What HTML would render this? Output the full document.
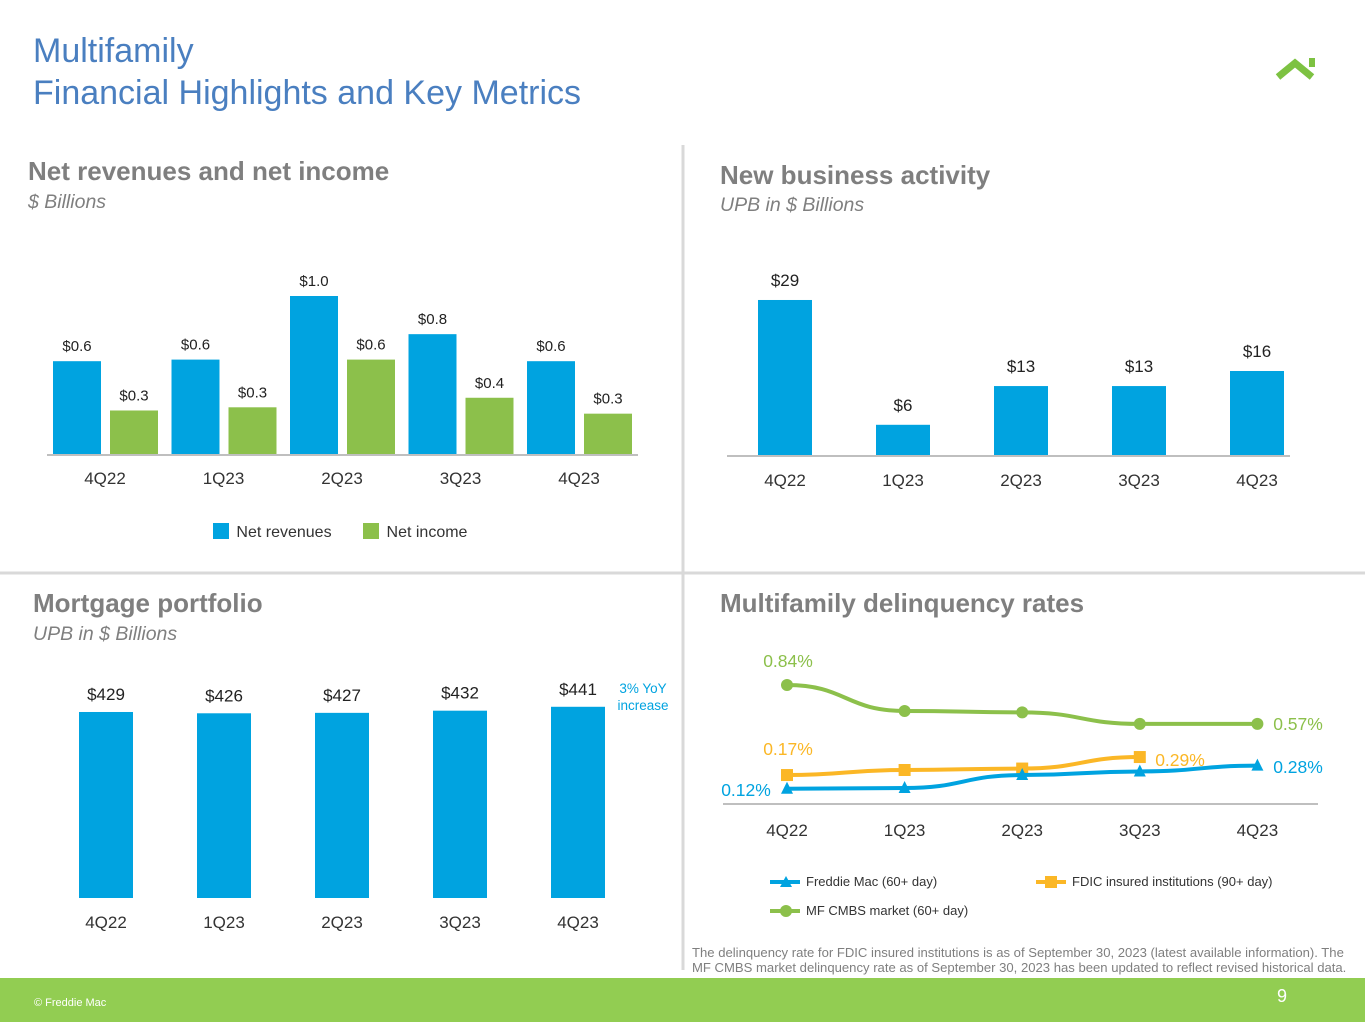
<!DOCTYPE html>
<html><head><meta charset="utf-8"><style>
body{margin:0;width:1365px;height:1024px;overflow:hidden;background:#fff;font-family:"Liberation Sans",sans-serif;}
svg text{font-family:"Liberation Sans",sans-serif;}
</style></head><body>
<svg id="s" width="1365" height="1024" xmlns="http://www.w3.org/2000/svg">
<text x="33" y="62" font-size="34" fill="#4a7fc0">Multifamily</text>
<text x="33" y="104" font-size="34" fill="#4a7fc0">Financial Highlights and Key Metrics</text>
<g><polyline points="1278,77 1295,63 1312,77" fill="none" stroke="#7dc242" stroke-width="7"/><rect x="1309" y="58" width="6" height="9" fill="#7dc242"/></g>
<line x1="683" y1="145" x2="683" y2="970" stroke="#d9d9d9" stroke-width="3"/>
<line x1="0" y1="573" x2="1365" y2="573" stroke="#d9d9d9" stroke-width="3"/>
<text x="28" y="180" font-size="26" font-weight="bold" fill="#7f7f7f">Net revenues and net income</text>
<text x="28" y="208" font-size="19.5" font-style="italic" fill="#7f7f7f">$ Billions</text>
<text x="720" y="184" font-size="26" font-weight="bold" fill="#7f7f7f">New business activity</text>
<text x="720" y="211" font-size="19.5" font-style="italic" fill="#7f7f7f">UPB in $ Billions</text>
<text x="33" y="612" font-size="26" font-weight="bold" fill="#7f7f7f">Mortgage portfolio</text>
<text x="33" y="640" font-size="19.5" font-style="italic" fill="#7f7f7f">UPB in $ Billions</text>
<text x="720" y="612" font-size="26" font-weight="bold" fill="#7f7f7f">Multifamily delinquency rates</text>
<g id="c1"></g><g id="c2"></g><g id="c3"></g><g id="c4"></g>
<text x="643" y="693" font-size="13.5" fill="#00a3e0" text-anchor="middle">3% YoY</text>
<text x="643" y="710" font-size="13.5" fill="#00a3e0" text-anchor="middle">increase</text>
<text x="692" y="957" font-size="13.1" fill="#7f7f7f">The delinquency rate for FDIC insured institutions is as of September 30, 2023 (latest available information). The</text>
<text x="692" y="972" font-size="13.1" fill="#7f7f7f">MF CMBS market delinquency rate as of September 30, 2023 has been updated to reflect revised historical data.</text>
<rect x="0" y="978" width="1365" height="44" fill="#92cd52"/>
<text x="34" y="1006" font-size="11" fill="#fff">© Freddie Mac</text>
<text x="1287" y="1002" font-size="18" fill="#fff" text-anchor="end">9</text>
</svg>
<script>
const quarters=["4Q22","1Q23","2Q23","3Q23","4Q23"];
const netRevenues=[0.59,0.6,1.0,0.76,0.59];
const netRevenueLabels=["$0.6","$0.6","$1.0","$0.8","$0.6"];
const netIncome=[0.28,0.3,0.6,0.36,0.26];
const netIncomeLabels=["$0.3","$0.3","$0.6","$0.4","$0.3"];
const newBusiness=[29,5.8,13,13,15.8];
const newBusinessLabels=["$29","$6","$13","$13","$16"];
const portfolio=[429,426,427,432,441];
const portfolioLabels=["$429","$426","$427","$432","$441"];
const freddieRates=[0.12,0.125,0.215,0.24,0.28];
const fdicRates=[0.215,0.25,0.26,0.34];
const cmbsRates=[0.84,0.66,0.65,0.57,0.57];
const NS="http://www.w3.org/2000/svg";
function mk(p,t,a){const e=document.createElementNS(NS,t);for(const k in a)e.setAttribute(k,a[k]);p.appendChild(e);return e;}
function txt(p,x,y,s,size,fill){const e=mk(p,"text",{x:x,y:y,"font-size":size,fill:fill,"text-anchor":"middle"});e.textContent=s;return e;}
const BLUE="#00a3e0",GREEN="#8cc04b",ORANGE="#fbb726";
(function(){const g=document.getElementById("c1");const base=455,k=159;
const xr=i=>53+i*118.5, xi=i=>110+i*118.5, y=v=>base-v*k;
quarters.forEach((q,i)=>{
 const r=mk(g,"rect",{x:xr(i),y:y(netRevenues[i]),width:48,height:netRevenues[i]*k,fill:BLUE});
 
 
 const b=mk(g,"rect",{x:xi(i),y:y(netIncome[i]),width:48,height:netIncome[i]*k,fill:GREEN});
 
 
 txt(g,xr(i)+24,y(netRevenues[i])-10,netRevenueLabels[i],15,"#222");
 txt(g,xi(i)+24,y(netIncome[i])-10,netIncomeLabels[i],15,"#222");
 txt(g,xr(i)+52,484,q,17,"#333");
});
mk(g,"line",{x1:47,y1:base,x2:638,y2:base,stroke:"#bfbfbf","stroke-width":2});
mk(g,"rect",{x:213,y:523,width:16,height:16,fill:BLUE});txt(g,284,537,"Net revenues",16,"#333");
mk(g,"rect",{x:363,y:523,width:16,height:16,fill:GREEN});txt(g,427,537,"Net income",16,"#333");
})();
(function(){const g=document.getElementById("c2");const base=456,k=5.38;
const x=i=>758+i*118, y=v=>base-v*k;
quarters.forEach((q,i)=>{
 const r=mk(g,"rect",{x:x(i),y:y(newBusiness[i]),width:54,height:newBusiness[i]*k,fill:BLUE});
 
 
 txt(g,x(i)+27,y(newBusiness[i])-14,newBusinessLabels[i],17,"#222");
 txt(g,x(i)+27,486,q,17,"#333");
});
mk(g,"line",{x1:727,y1:base,x2:1290,y2:base,stroke:"#bfbfbf","stroke-width":2});
})();
(function(){const g=document.getElementById("c3");const base=898,k=0.4336;
const x=i=>79+i*118, y=v=>base-v*k;
quarters.forEach((q,i)=>{
 const r=mk(g,"rect",{x:x(i),y:y(portfolio[i]),width:54,height:portfolio[i]*k,fill:BLUE});
 
 
 txt(g,x(i)+27,y(portfolio[i])-12,portfolioLabels[i],17,"#222");
 txt(g,x(i)+27,928,q,17,"#333");
});
})();
(function(){const g=document.getElementById("c4");const k=144,z=806;
const x=i=>787+i*117.6, y=v=>z-v*k;
mk(g,"line",{x1:723,y1:804,x2:1318,y2:804,stroke:"#bfbfbf","stroke-width":2});
quarters.forEach((q,i)=>txt(g,x(i),836,q,17,"#333"));
function path(vals){let d="";vals.forEach((v,i)=>{const X=x(i),Y=y(v);if(i==0)d="M"+X+","+Y;else{const px=x(i-1),py=y(vals[i-1]),m=(X-px)/2;d+=" C"+(px+m)+","+py+" "+(X-m)+","+Y+" "+X+","+Y;}});return d;}
[[cmbsRates,GREEN,"cmbs"],[fdicRates,ORANGE,"fdic"],[freddieRates,BLUE,"freddie"]].forEach(([vals,c,n])=>{
 const p=mk(g,"path",{d:path(vals),fill:"none",stroke:c,"stroke-width":4});
 
 
 vals.forEach((v,i)=>{let m;
  if(n=="cmbs")m=mk(g,"circle",{cx:x(i),cy:y(v),r:6,fill:c});
  else if(n=="fdic")m=mk(g,"rect",{x:x(i)-6,y:y(v)-6,width:12,height:12,fill:c});
  else m=mk(g,"polygon",{points:(x(i)-6)+","+(y(v)+5)+" "+(x(i)+6)+","+(y(v)+5)+" "+x(i)+","+(y(v)-7),fill:c});
  
  
 });
});
txt(g,788,667,"0.84%",17.5,GREEN);txt(g,1298,730,"0.57%",17.5,GREEN);
txt(g,788,755,"0.17%",17.5,ORANGE);txt(g,1180,766,"0.29%",17.5,ORANGE);
txt(g,746,796,"0.12%",17.5,BLUE);txt(g,1298,773,"0.28%",17.5,BLUE);
mk(g,"line",{x1:770,y1:882,x2:800,y2:882,stroke:BLUE,"stroke-width":4});mk(g,"polygon",{points:"780,887 792,887 786,876",fill:BLUE});
mk(g,"text",{x:806,y:886,"font-size":13,fill:"#333"}).textContent="Freddie Mac (60+ day)";
mk(g,"line",{x1:1036,y1:882,x2:1066,y2:882,stroke:ORANGE,"stroke-width":4});mk(g,"rect",{x:1045,y:876,width:12,height:12,fill:ORANGE});
mk(g,"text",{x:1072,y:886,"font-size":13,fill:"#333"}).textContent="FDIC insured institutions (90+ day)";
mk(g,"line",{x1:770,y1:911,x2:800,y2:911,stroke:GREEN,"stroke-width":4});mk(g,"circle",{cx:786,cy:911,r:6,fill:GREEN});
mk(g,"text",{x:806,y:915,"font-size":13,fill:"#333"}).textContent="MF CMBS market (60+ day)";
})();
</script>
</body></html>
